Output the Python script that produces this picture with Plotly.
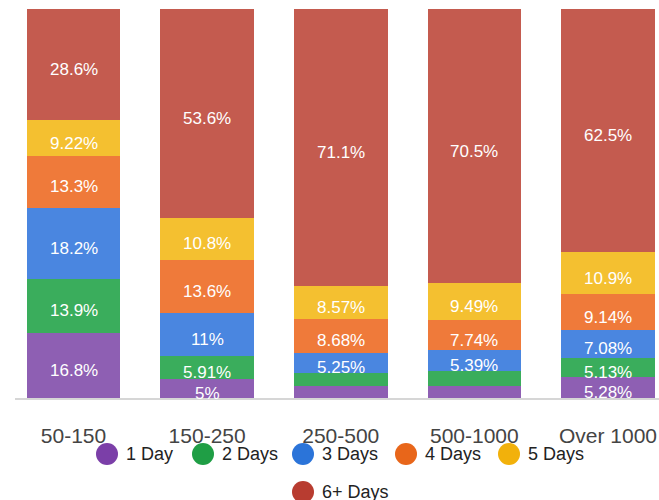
import plotly.graph_objects as go

categories = ["50-150", "150-250", "250-500", "500-1000", "Over 1000"]
series_names = ["1 Day", "2 Days", "3 Days", "4 Days", "5 Days", "6+ Days"]
one_day = [16.8, 5, 3.2, 3.0, 5.28]
two_days = [13.9, 5.91, 3.2, 3.88, 5.13]
three_days = [18.2, 11, 5.25, 5.39, 7.08]
four_days = [13.3, 13.6, 8.68, 7.74, 9.14]
five_days = [9.22, 10.8, 8.57, 9.49, 10.9]
six_plus = [28.6, 53.6, 71.1, 70.5, 62.5]

series_values = [one_day, two_days, three_days, four_days, five_days, six_plus]
bar_colors = ["#8e5fb3", "#3aad5c", "#4a86e0", "#ef7a3a", "#f4c030", "#c45b4f"]
legend_colors = ["#7b3fa8", "#1f9e45", "#2b74d9", "#e8661a", "#f2b10b", "#b83c30"]

W, H = 659, 500
ML, MR, MT, MB = 15, 0, 9, 102
plot_w = W - ML - MR
plot_h = H - MT - MB

fig = go.Figure()
annotations = []
cum = [0.0] * len(categories)
for name, vals, col in zip(series_names, series_values, bar_colors):
    fig.add_trace(go.Bar(
        x=categories, y=vals, name=name, width=0.7,
        marker=dict(color=col, line=dict(width=0)),
        showlegend=False, hoverinfo="x+y+name",
    ))
    for i, v in enumerate(vals):
        mid = cum[i] + v / 2
        if v >= 5:
            annotations.append(dict(
                x=categories[i], y=mid, xref="x", yref="y",
                text=f"{v:g}%", showarrow=False, yshift=-5,
                font=dict(family="Liberation Sans, Arial", size=17, color="white"),
            ))
        cum[i] += v

# manual legend (circle swatches + text); positions in window pixels
def px2x(px):
    return (px - ML) / plot_w

def px2y(py):
    return (H - MB - py) / plot_h

legend_pos = [(107, 454), (203, 454), (303, 454), (406, 454), (509, 454), (303, 492)]
shapes = []
for name, col, (cx, cy) in zip(series_names, legend_colors, legend_pos):
    shapes.append(dict(
        type="circle", xref="paper", yref="paper",
        xsizemode="pixel", ysizemode="pixel",
        xanchor=px2x(cx), yanchor=px2y(cy),
        x0=-11, x1=11, y0=-11, y1=11,
        fillcolor=col, line=dict(width=0),
    ))
    annotations.append(dict(
        x=px2x(cx + 17), y=px2y(cy), xref="paper", yref="paper",
        xanchor="left", yanchor="middle", showarrow=False, text=name,
        font=dict(family="Liberation Sans, Arial", size=18, color="#222222"),
    ))

fig.update_layout(
    width=W, height=H,
    margin=dict(l=ML, r=MR, t=MT, b=MB, pad=0),
    barmode="stack",
    plot_bgcolor="white", paper_bgcolor="white",
    showlegend=False,
    annotations=annotations,
    shapes=shapes,
    xaxis=dict(
        type="category", range=[-0.438, 4.382],
        showline=True, linecolor="#d6d6d6", linewidth=2,
        showgrid=False, zeroline=False,
        ticks="outside", ticklen=18, tickcolor="rgba(0,0,0,0)",
        tickfont=dict(family="Liberation Sans, Arial", size=21, color="#444444"),
    ),
    yaxis=dict(range=[0, 100], visible=False, showgrid=False, zeroline=False),
)

fig.write_html(
    "out.html",
    config={"displayModeBar": False},
    post_script="document.body.style.margin='0';document.body.style.overflow='hidden';",
)
